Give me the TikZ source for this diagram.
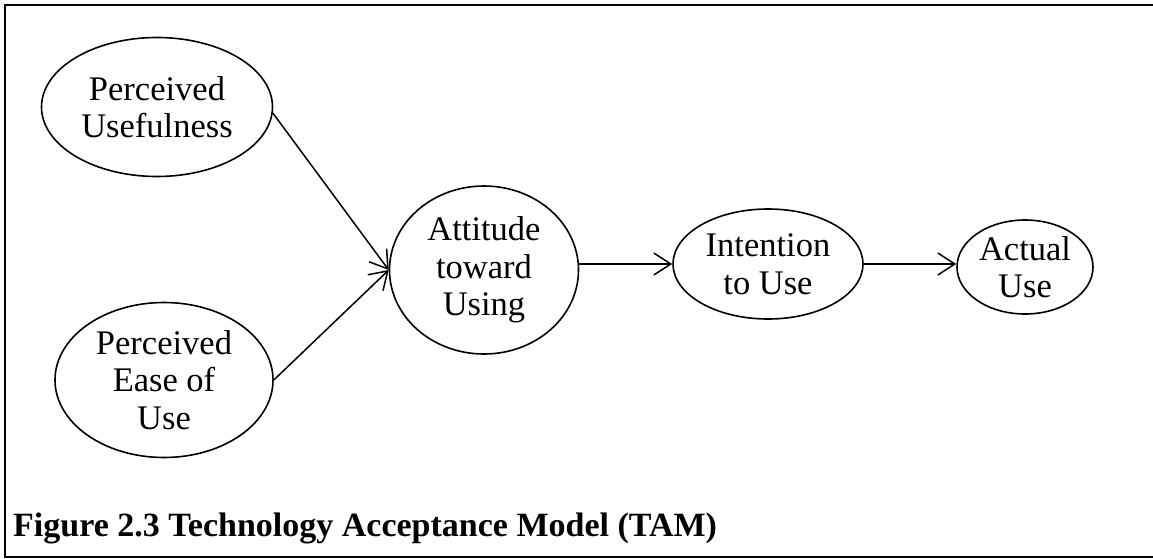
\documentclass[tikz,border=0pt]{standalone}
\usepackage{fontspec}
\setmainfont{Liberation Serif}
\usetikzlibrary{shapes.geometric,arrows.meta}
\begin{document}
\begin{tikzpicture}[x=1pt,y=-1pt,
  concept/.style={ellipse,draw,line width=1.6pt,inner sep=0pt,align=center,
    font=\fontsize{34.5}{37.5}\selectfont},
  link/.style={line width=1.5pt,-{Straight Barb[length=17pt,width=22pt,line width=1.5pt]}},
  frameline/.style={line width=2.4pt}]
\useasboundingbox (0,0) rectangle (1153,559);
\draw[frameline] (1153,5) -- (5,5) -- (5,557) -- (1153,557);
\node[concept,minimum width=231pt,minimum height=139pt] (pu) at (157,107) {Perceived\\Usefulness};
\node[concept,minimum width=218pt,minimum height=155pt] (pe) at (164,380) {Perceived\\Ease of\\Use};
\node[concept,minimum width=189pt,minimum height=168pt] (att) at (484,270) {Attitude\\toward\\Using};
\node[concept,minimum width=190pt,minimum height=110pt] (int) at (768,264) {Intention\\to Use};
\node[concept,minimum width=136pt,minimum height=94pt] (act) at (1025,267) {Actual\\Use};
\draw[link] (pu.-3) -- (att.west);
\draw[link] (pe.east) -- (att.west);
\draw[link] (att.east |- int.west) -- (int.west);
\draw[link] (int.east) -- (act.west |- int.east);
\node[anchor=base west,inner sep=0pt,font=\fontsize{34}{36}\selectfont\bfseries] (cap) at (13,536) {Figure 2.3 Technology Acceptance Model (TAM)};
\end{tikzpicture}
\end{document}
